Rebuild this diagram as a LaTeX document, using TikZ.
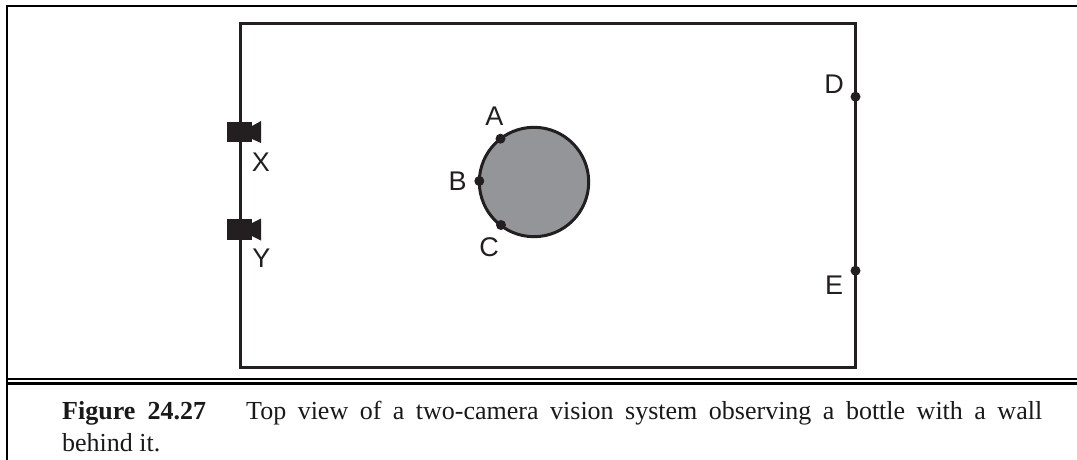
\documentclass[tikz,border=0pt]{standalone}
\usepackage{fontspec}
\setmainfont{Liberation Serif}
\newfontfamily\labelfont{Liberation Sans}
\definecolor{ink}{HTML}{231F20}
\definecolor{bottle}{HTML}{939598}
\tikzset{
  pagerule/.style={line width=2.7pt,black},
  wall/.style={line width=3pt,ink,line join=miter},
  lbl/.style={inner sep=0pt,font=\labelfont\fontsize{27}{30}\selectfont,text=ink},
  dot/.style={circle,fill=ink,inner sep=0pt,minimum size=10pt},
  cam/.style={fill=ink,draw=none},
  captext/.style={inner sep=0pt,anchor=base west,text=black!90,font=\fontsize{26}{30}\selectfont}
}
\begin{document}
\begin{tikzpicture}[x=1pt,y=-1pt]
\useasboundingbox (0,0) rectangle (1077,460);
% page frame
\draw[pagerule] (1077,6) -- (7,6) -- (7,460);
\draw[pagerule] (7,379) -- (1077,379);
\draw[pagerule] (7,383.5) -- (1077,383.5);
% room
\draw[wall] (240.5,23.5) rectangle (855.5,367);
% bottle
\draw[line width=3pt,ink,fill=bottle] (534,182) circle (54.7);
% points
\node[dot] (a) at (500.5,138.7) {};
\node[dot] (b) at (479.3,181) {};
\node[dot] (c) at (501,225) {};
\node[dot] (d) at (855.5,96.7) {};
\node[dot] (e) at (855.5,270.7) {};
\node[lbl] (la) at (494.3,116) {A};
\node[lbl] (lb) at (457.7,181) {B};
\node[lbl] (lc) at (489,247.7) {C};
\node[lbl] (ld) at (834,84.3) {D};
\node[lbl] (le) at (834,285) {E};
% cameras
\fill[cam] (227.3,122) rectangle (252.3,142.3);
\fill[cam] (252,126) -- (261,121) -- (261,143) -- (252,139) -- cycle;
\fill[cam] (227.3,219.3) rectangle (252.3,240);
\fill[cam] (252,223) -- (261,218.5) -- (261,240.5) -- (252,236) -- cycle;
\node[lbl] (lx) at (261,162.5) {X};
\node[lbl] (ly) at (261.5,258.5) {Y};
% caption
\node[captext] (capa) at (62,419) {\makebox[144pt][s]{\textbf{Figure 24.27}}};
\node[captext] (capb) at (246,419) {\makebox[796pt][s]{Top view of a two-camera vision system observing a bottle with a wall}};
\node[captext] (capc) at (62,451.5) {behind it.};
\end{tikzpicture}
\end{document}
